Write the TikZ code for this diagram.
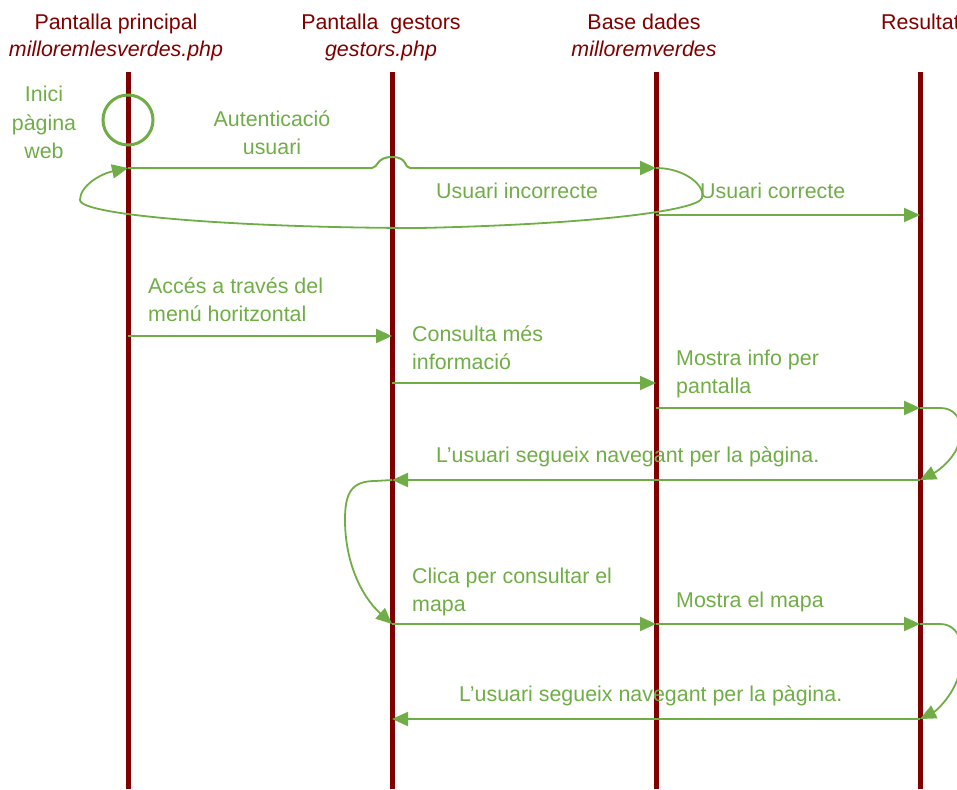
\documentclass[tikz,border=0pt]{standalone}
\usepackage{fontspec}
\setmainfont{Liberation Sans}
\usetikzlibrary{arrows.meta}
\definecolor{lifered}{HTML}{800000}
\definecolor{msggreen}{HTML}{70AD47}
\tikzset{
  lifeline/.style={draw=lifered, line width=5pt},
  hdr/.style={text=lifered, inner sep=0pt, anchor=base, font=\fontsize{21.4}{28}\selectfont},
  hdri/.style={hdr, font=\fontsize{21.4}{28}\selectfont\itshape},
  lbl/.style={text=msggreen, inner sep=0pt, anchor=base west, font=\fontsize{21.4}{28}\selectfont},
  lblc/.style={lbl, anchor=base},
  msg/.style={draw=msggreen, line width=2pt, -{Triangle[length=16pt,width=14pt]}},
  loopmsg/.style={msg, line width=1.8pt}
}
\begin{document}
\begin{tikzpicture}[x=1pt,y=-1pt]
\useasboundingbox (0,0) rectangle (957,789);
\clip (0,0) rectangle (957,789);
% lifelines
\foreach \n/\x in {1/128,2/392,3/656,4/920}{
  \coordinate (T\n) at (\x,72);
  \coordinate (B\n) at (\x,789);
  \draw[lifeline] (T\n) -- (B\n);
}
% headers
\node[hdr]  (h1a) at (116,30) {Pantalla principal};
\node[hdri] (h1b) at (116,57) {milloremlesverdes.php};
\node[hdr]  (h2a) at (381,30) {Pantalla~~gestors};
\node[hdri] (h2b) at (381,57) {gestors.php};
\node[hdr]  (h3a) at (644,30) {Base dades};
\node[hdri] (h3b) at (644,57) {milloremverdes};
\node[hdr, anchor=base west] (h4a) at (881,30) {Resultat};
% start
\node[draw=msggreen, line width=3pt, circle, minimum size=50pt, inner sep=0pt] (start) at (128,120) {};
\node[lblc] (i1) at (44,102) {Inici};
\node[lblc] (i2) at (44,130) {pàgina};
\node[lblc] (i3) at (44,158) {web};
% labels
\node[lblc] (au1) at (272,126) {Autenticació};
\node[lblc] (au2) at (272,154) {usuari};
\node[lbl] (uinc) at (436,198) {Usuari incorrecte};
\node[lbl] (ucor) at (700,198) {Usuari correcte};
\node[lbl] (ac1) at (148,293) {Accés a través del};
\node[lbl] (ac2) at (148,321) {menú horitzontal};
\node[lbl] (co1) at (412,341) {Consulta més};
\node[lbl] (co2) at (412,369) {informació};
\node[lbl] (mo1) at (676,365) {Mostra info per};
\node[lbl] (mo2) at (676,393) {pantalla};
\node[lbl] (nav1) at (436,462) {L’usuari segueix navegant per la pàgina.};
\node[lbl] (cl1) at (412,583) {Clica per consultar el};
\node[lbl] (cl2) at (412,611) {mapa};
\node[lbl] (mm) at (676,607) {Mostra el mapa};
\node[lbl] (nav2) at (459,701) {L’usuari segueix navegant per la pàgina.};
% message points
\coordinate (m1s) at (128,168);
\coordinate (m1e) at (656,168);
\coordinate (m2s) at (656,215);
\coordinate (m2e) at (920,215);
\coordinate (m3s) at (128,336);
\coordinate (m3e) at (392,336);
\coordinate (m4s) at (392,383);
\coordinate (m4e) at (656,383);
\coordinate (m5s) at (656,408);
\coordinate (m5e) at (920,408);
\coordinate (m6s) at (920,480);
\coordinate (m6e) at (392,480);
\coordinate (m7s) at (392,624);
\coordinate (m7e) at (656,624);
\coordinate (m8s) at (656,624);
\coordinate (m8e) at (920,624);
\coordinate (m9s) at (920,719);
\coordinate (m9e) at (392,719);
% authentication with hop over lifeline 2
\draw[msg] (m1s) -- (372,168) .. controls (378,168) and (376,157) .. (392,157)
  .. controls (408,157) and (404,168) .. (410,168) -- (m1e);
% incorrect user loop
\draw[loopmsg] (m1e) .. controls (685,168) and (706,186) .. (702,198)
  .. controls (698,210) and (600,224) .. (420,228)
  .. controls (250,228) and (80,216) .. (80,200)
  .. controls (80,186) and (100,174) .. (m1s);
\draw[msg] (m2s) -- (m2e);
\draw[msg] (m3s) -- (m3e);
\draw[msg] (m4s) -- (m4e);
\draw[msg] (m5s) -- (m5e);
\draw[loopmsg] (m5e) -- (940,408) .. controls (962,408) and (966,432) .. (955,452)
  .. controls (948,464) and (936,472) .. (m6s);
\draw[msg] (m6s) -- (m6e);
\draw[loopmsg] (m6e) -- (375,481) .. controls (350,481) and (345,495) .. (345,520)
  .. controls (345,560) and (360,595) .. (m7s);
\draw[msg] (m7s) -- (m7e);
\draw[msg] (m8s) -- (m8e);
\draw[loopmsg] (m8e) -- (940,624) .. controls (966,624) and (966,662) .. (955,685)
  .. controls (948,700) and (936,711) .. (m9s);
\draw[msg] (m9s) -- (m9e);
\end{tikzpicture}
\end{document}
